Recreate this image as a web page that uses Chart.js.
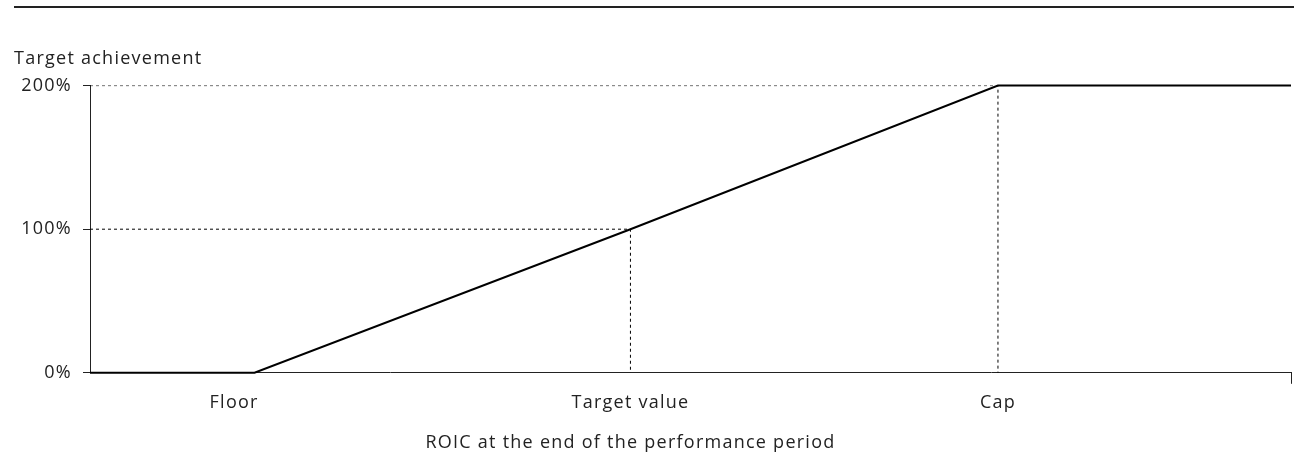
<!DOCTYPE html>
<html>
<head>
<meta charset="utf-8">
<script src="https://cdn.jsdelivr.net/npm/chart.js@4/dist/chart.umd.min.js"></script>
<style>
  html, body { margin: 0; padding: 0; background: #fff; }
  #wrap { position: relative; width: 1294px; height: 458px; }
  #rule { position: absolute; left: 14px; right: 0; top: 6px; height: 0; border-top: 2px solid #222; }
</style>
</head>
<body>
<div id="wrap">
  <div id="rule"></div>
  <canvas id="chart" width="1294" height="458"></canvas>
</div>
<script>
// payout curve: ROIC position (0-100 scale) -> target achievement %
const curveX = [0, 13.7, 45, 75.6, 100];
const curveY = [0, 0, 100, 200, 200];
// dashed guides to target and cap
const guideTargetX = [0, 45, 45];
const guideTargetY = [100, 100, 0];
const guideCapX = [0, 75.6, 75.6];
const guideCapY = [200, 200, 0];
// x tick positions / labels (last one is the bare end tick)
const xTickValues = [12, 45, 75.6, 100];
const xTickLabels = ['Floor', 'Target value', 'Cap', ''];
const yTickValues = [0, 100, 200];
// the x title sits centred under the target value, not under the axis
const xTitle = 'ROIC at the end of the performance period';
const xTitleAt = 45;

const FONT = '"Open Sans", sans-serif';
const FSIZE = 18;
const INK = '#222';
const LS = '1.25px';

const pts = (xs, ys) => xs.map((x, i) => ({ x: x, y: ys[i] }));

// the reference face is wide; widen Open Sans a little
const spacing = {
  id: 'spacing',
  beforeInit: c => { c.ctx.letterSpacing = LS; },
  beforeUpdate: c => { c.ctx.letterSpacing = LS; }
};

const xTitlePlugin = {
  id: 'xTitle',
  afterDraw: c => {
    const s = c.scales.x, ctx = c.ctx;
    ctx.save();
    ctx.letterSpacing = LS;
    ctx.font = FSIZE + 'px ' + FONT;
    ctx.fillStyle = INK;
    ctx.textAlign = 'center';
    ctx.textBaseline = 'middle';
    ctx.fillText(xTitle, s.getPixelForValue(xTitleAt), s.bottom - FSIZE * 0.6);
    ctx.restore();
  }
};

new Chart(document.getElementById('chart'), {
  type: 'line',
  plugins: [spacing, xTitlePlugin],
  data: {
    datasets: [
      { data: pts(guideTargetX, guideTargetY), borderColor: '#000', borderWidth: 1, borderDash: [3, 3], pointRadius: 0, fill: false },
      { data: pts(guideCapX, guideCapY), borderColor: '#000', borderWidth: 1, borderDash: [3, 3], pointRadius: 0, fill: false },
      { data: pts(curveX, curveY), borderColor: '#000', borderWidth: 2, pointRadius: 0, fill: false, clip: false, tension: 0 }
    ]
  },
  options: {
    responsive: false,
    animation: false,
    layout: { padding: { left: 14, right: 3, top: 0, bottom: 4 } },
    plugins: {
      legend: { display: false },
      tooltip: { enabled: false },
      title: {
        display: true,
        text: 'Target achievement',
        align: 'start',
        color: INK,
        font: { family: FONT, size: FSIZE, weight: 'normal' },
        padding: { top: 48, bottom: 16 }
      }
    },
    scales: {
      x: {
        type: 'linear',
        min: 0,
        max: 100,
        afterBuildTicks: s => { s.ticks = xTickValues.map(v => ({ value: v })); },
        afterFit: s => { s.paddingRight = 0; },
        ticks: {
          autoSkip: false,
          maxRotation: 0,
          padding: 8,
          color: INK,
          font: { family: FONT, size: FSIZE },
          callback: (v, i) => xTickLabels[i]
        },
        grid: {
          drawOnChartArea: false,
          tickLength: 11,
          color: c => c.index === xTickValues.length - 1 ? INK : 'rgba(0,0,0,0)'
        },
        border: { display: true, color: INK, width: 1 },
        title: {
          // keeps the room; the text itself is drawn by xTitlePlugin
          display: true,
          text: xTitle,
          color: 'rgba(0,0,0,0)',
          font: { family: FONT, size: FSIZE },
          padding: { top: 11, bottom: 0 }
        }
      },
      y: {
        min: 0,
        max: 200,
        afterBuildTicks: s => { s.ticks = yTickValues.map(v => ({ value: v })); },
        afterFit: s => { s.width = 76; },
        ticks: {
          padding: 11,
          color: INK,
          font: { family: FONT, size: FSIZE },
          callback: v => v + '%'
        },
        grid: { drawOnChartArea: false, tickLength: 7, color: INK },
        border: { display: true, color: INK, width: 1 }
      }
    }
  }
});
</script>
</body>
</html>
